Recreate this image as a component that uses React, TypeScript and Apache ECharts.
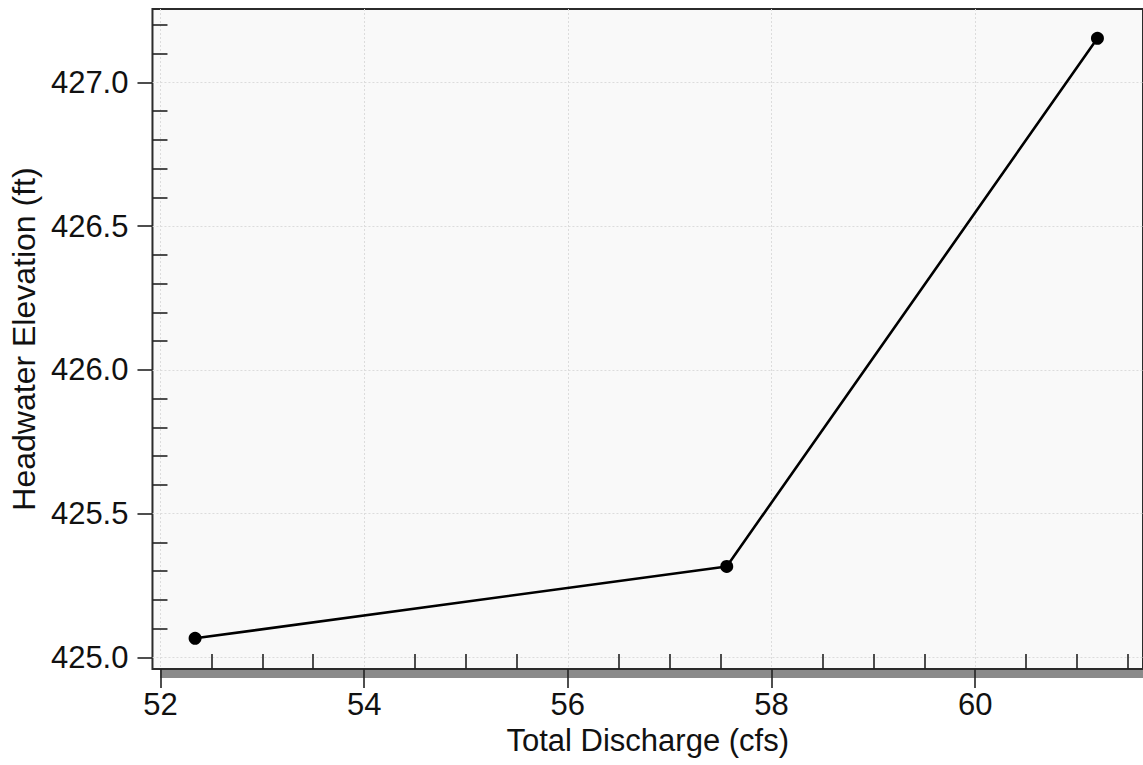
import React, { useEffect, useRef } from "react";
import * as echarts from "echarts";

// Data
const discharge = [52.34, 57.56, 61.2];
const headwater = [425.066, 425.316, 427.153];

// Axis tick labels
const xTickLabels = [52, 54, 56, 58, 60];
const yTickLabels = [425.0, 425.5, 426.0, 426.5, 427.0];

// Minor tick positions (no labels)
const xMinorTicks = [52.5, 53, 53.5, 54.5, 55, 55.5, 56.5, 57, 57.5, 58.5, 59, 59.5, 60.5, 61, 61.5];
const yMinorTicks = [
  425.1, 425.2, 425.3, 425.4, 425.6, 425.7, 425.8, 425.9,
  426.1, 426.2, 426.3, 426.4, 426.6, 426.7, 426.8, 426.9,
  427.1, 427.2,
];

const X_MIN = 51.9216;
const X_MAX = 61.6473;
const Y_MIN = 424.9593;
const Y_MAX = 427.255;

const FONT = "'Liberation Sans', Arial, sans-serif";
const TXT = "#111111";

export default function App() {
  const ref = useRef<HTMLDivElement>(null);

  useEffect(() => {
    document.body.style.margin = "0";
    if (!ref.current) return;
    const chart = echarts.init(ref.current, null, { renderer: "svg" });
    const points = discharge.map((x, i) => [x, headwater[i]]);

    chart.setOption({
      animation: false,
      backgroundColor: "#ffffff",
      grid: {
        left: 152,
        top: 9,
        right: -2,
        bottom: 96,
        show: true,
        backgroundColor: "#f9f9f9",
        borderColor: "#2b2b2b",
        borderWidth: 2,
      },
      graphic: [
        {
          type: "rect",
          z: -10,
          shape: { x: 160, y: 670, width: 1000, height: 8 },
          style: { fill: "#8a8a8a" },
        },
      ],
      xAxis: [
        {
          type: "value",
          min: X_MIN,
          max: X_MAX,
          name: "Total Discharge (cfs)",
          nameLocation: "middle",
          nameGap: 55,
          nameTextStyle: { fontFamily: FONT, fontSize: 31, color: TXT },
          axisLine: { show: false },
          axisTick: {
            show: true,
            inside: false,
            length: 19,
            customValues: xTickLabels,
            lineStyle: { color: "#222", width: 1.6 },
          },
          axisLabel: {
            customValues: xTickLabels,
            margin: 20,
            fontFamily: FONT,
            fontSize: 31,
            color: TXT,
            formatter: (v: number) => String(Math.round(v)),
          },
          splitLine: {
            show: true,
            lineStyle: { color: "#dcdcdc", type: [2, 2], width: 1 },
          },
        },
        {
          type: "value",
          position: "bottom",
          min: X_MIN,
          max: X_MAX,
          axisLine: { show: false },
          axisTick: {
            show: true,
            inside: true,
            length: 15,
            customValues: xMinorTicks,
            lineStyle: { color: "#222", width: 1.6 },
          },
          axisLabel: { show: false },
          splitLine: { show: false },
        },
      ],
      yAxis: [
        {
          type: "value",
          min: Y_MIN,
          max: Y_MAX,
          name: "Headwater Elevation (ft)",
          nameLocation: "middle",
          nameGap: 108,
          nameTextStyle: { fontFamily: FONT, fontSize: 32, color: TXT },
          axisLine: { show: false },
          axisTick: {
            show: true,
            inside: false,
            length: 15,
            customValues: yTickLabels,
            lineStyle: { color: "#222", width: 1.6 },
          },
          axisLabel: {
            customValues: yTickLabels,
            margin: 24,
            fontFamily: FONT,
            fontSize: 31,
            color: TXT,
            formatter: (v: number) => v.toFixed(1),
          },
          splitLine: {
            show: true,
            lineStyle: { color: "#dcdcdc", type: [2, 2], width: 1 },
          },
        },
        {
          type: "value",
          position: "left",
          min: Y_MIN,
          max: Y_MAX,
          axisLine: { show: false },
          axisTick: {
            show: true,
            inside: true,
            length: 15,
            customValues: yMinorTicks,
            lineStyle: { color: "#222", width: 1.6 },
          },
          axisLabel: { show: false },
          splitLine: { show: false },
        },
      ],
      series: [
        {
          type: "line",
          data: points,
          xAxisIndex: 0,
          yAxisIndex: 0,
          symbol: "circle",
          symbolSize: 13,
          showSymbol: true,
          lineStyle: { color: "#000", width: 2.6 },
          itemStyle: { color: "#000" },
          z: 5,
        },
      ],
    });

    return () => chart.dispose();
  }, []);

  return (
    <div
      ref={ref}
      style={{ position: "absolute", left: 0, top: 0, width: 1143, height: 765 }}
    />
  );
}
